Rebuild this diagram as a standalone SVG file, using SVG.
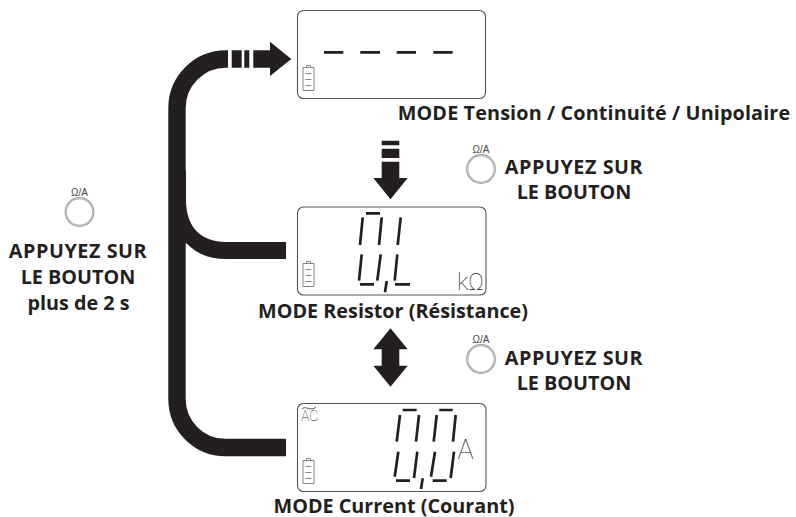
<svg xmlns="http://www.w3.org/2000/svg" width="796" height="517" viewBox="0 0 796 517">
<style>
.lcd{fill:#fff;stroke:#555;stroke-width:1.1}
.seg{fill:none;stroke:#231f20;stroke-width:2.7}
.bat{fill:none;stroke:#666;stroke-width:.8}
.t{font-family:"Open Sans","Liberation Sans",sans-serif;font-weight:700;font-size:19.8px;fill:#231f20;text-anchor:middle}
.w{letter-spacing:.55px}
.k{font-family:"Liberation Sans",sans-serif;font-size:10px;fill:#444;text-anchor:middle}
.ring{fill:#fff;stroke:#999;stroke-width:2.2}
.ringi{fill:none;stroke:#fff;stroke-width:.5}
.thin{font-family:"Roboto","Liberation Sans",sans-serif;font-weight:100;fill:#222}
.fat{fill:none;stroke:#231f20;stroke-width:17.400}
.blk{fill:#231f20}
</style>
<defs>
<g id="bat"><path class="bat" d="M0.5 2.5H11.5V25.500H0.500ZM4 2.500V0.500H8V2.500M3 8.500H9M3 14.500H9M3 20.500H9"/></g>
<g id="btn"><text class="k" x="0" y="-16.500">Ω/A</text><circle class="ring" cx="0" cy="0" r="13.800"/><circle class="ringi" cx="0" cy="0" r="13.800"/></g>
</defs>
<g id="connectors">
<path class="fat" d="M228 59H226A49 49 0 0 0 177 108V399A48.500 48.500 0 0 0 225.500 447.500H286"/>
<path class="blk" d="M177 170H186V200C186 226 200 242 226 242H286V259H226C208 259 196 253 186 243H177Z"/>
<path class="blk" d="M231.700 50.300H241.700V67.700H231.700ZM244.300 50.300H249.300V67.700H244.300ZM253.300 50.300H270V41.700L291.300 59L270 76V67.700H253.300Z"/>
<path class="blk" d="M381.700 140.700H399.300V145.300H381.700ZM381.700 148.700H399.300V158H381.700ZM381.700 161.700H399.300V178H407.700L390.500 199.300L373.300 178H381.700Z"/>
<path class="blk" d="M390.500 328.300L407.700 349.300H399.300V365.700H407.700L390.500 386.700L373.300 365.700H381.700V349.300H373.300Z"/>
</g>
<g id="lcd-tension">
<rect class="lcd" x="297.500" y="10.500" width="188" height="88" rx="6"/>
<path class="seg" d="M324 52.300H343.300M360.300 52.300H380M396.700 52.300H416M433.300 52.300H452.700"/>
<use href="#bat" x="302.500" y="65"/>
<text class="t" x="594" y="119.500" style="letter-spacing:.13px">MODE Tension / Continuité / Unipolaire</text>
</g>
<g id="lcd-resistor">
<rect class="lcd" x="297.500" y="207" width="188.500" height="88" rx="6"/>
<path class="seg" d="M366 213.300H380M362.700 217.300L360 245M381.700 217.300L379 245M400.700 217.300L397.700 245M361.700 254.300L359 280.700M360 284.300H374M380.700 254.300L377.300 280.700M386.700 281L385 292.300M397.300 254.300L394.700 280.700M395 284.300H410"/>
<use href="#bat" x="302.500" y="261"/>
<text class="thin" x="457" y="290" font-size="24">kΩ</text>
<text class="t" x="393" y="318">MODE Resistor (Résistance)</text>
</g>
<g id="lcd-current">
<rect class="lcd" x="297.500" y="403.500" width="188.500" height="88" rx="6"/>
<path class="seg" d="M402.700 410H416.700M400 415L396.700 441.700M419 415L416 441.700M439.300 410H452.700M436.700 415L433.700 441.700M455.700 415L453 441.700M398.300 451.700L394.700 476.700M417.300 451.700L414 478M396 480.700H410M422.700 478.300L421 489M435 451.700L431 476.700M454 451.700L450.700 478M432.700 480.700H446.700"/>
<use href="#bat" x="302.500" y="458"/>
<text class="thin" x="301" y="421" font-size="14">AC</text>
<path d="M302 409C305 405 311 412 316 407" fill="none" stroke="#333" stroke-width=".8"/>
<text class="thin" x="457.500" y="459" font-size="27">A</text>
<text class="t" x="394" y="512.500">MODE Current (Courant)</text>
</g>
<g id="button-long">
<use href="#btn" x="79.500" y="212"/>
<text class="t w" x="78" y="258">APPUYEZ SUR</text>
<text class="t" x="78" y="284">LE BOUTON</text>
<text class="t" x="78.500" y="310">plus de 2 s</text>
</g>
<g id="button-1">
<use href="#btn" x="481" y="169"/>
<text class="t w" x="574" y="174">APPUYEZ SUR</text>
<text class="t" x="574" y="199">LE BOUTON</text>
</g>
<g id="button-2">
<use href="#btn" x="481" y="359"/>
<text class="t w" x="574" y="365">APPUYEZ SUR</text>
<text class="t" x="574" y="390">LE BOUTON</text>
</g>
</svg>
